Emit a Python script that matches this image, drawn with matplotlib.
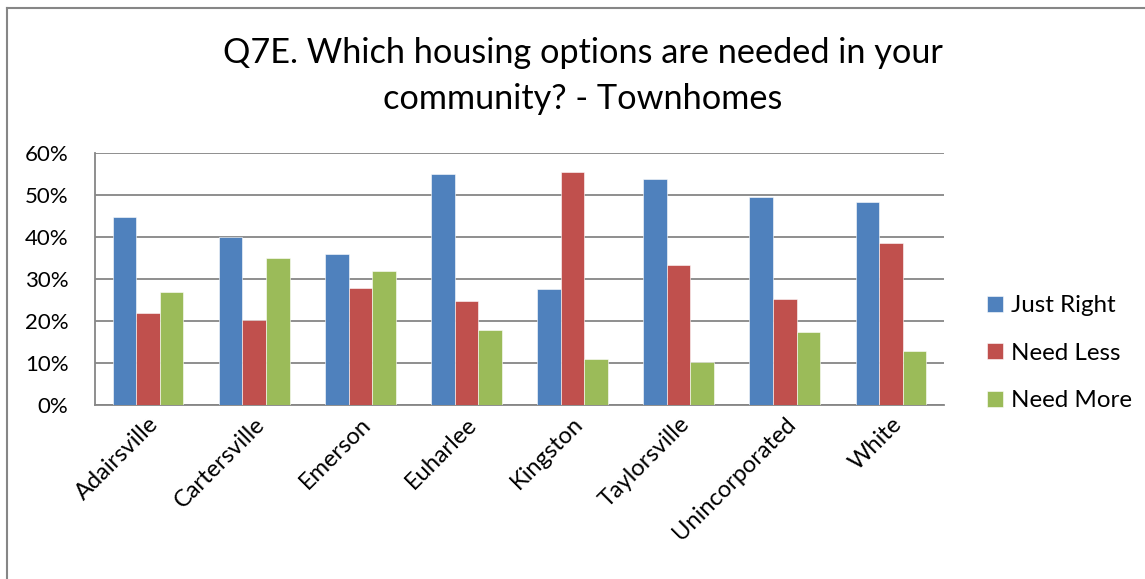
import matplotlib
matplotlib.use("Agg")
import matplotlib.pyplot as plt
import numpy as np
from matplotlib.ticker import PercentFormatter

plt.rcParams['font.family'] = ['Lato', 'DejaVu Sans']

lugares = ['Adairsville', 'Cartersville', 'Emerson', 'Euharlee', 'Kingston',
           'Taylorsville', 'Unincorporated', 'White']
just_right = [44.7, 39.9, 36.0, 55.0, 27.6, 53.7, 49.5, 48.3]
need_less = [21.8, 20.2, 27.9, 24.7, 55.5, 33.3, 25.2, 38.6]
need_more = [27.0, 35.0, 31.9, 17.9, 11.0, 10.2, 17.5, 12.9]

series = [('Just Right', just_right, '#4F81BD'),
          ('Need Less', need_less, '#C0504D'),
          ('Need More', need_more, '#9BBB59')]

fig = plt.figure(figsize=(11.45, 5.79), dpi=100)
ax = fig.add_axes([95 / 1145, 1 - 405 / 579, 849 / 1145, 252 / 579])

# borde del gráfico
fig.add_artist(plt.Line2D([7 / 1145, 7 / 1145], [0, 1 - 8 / 579], color='#868686', lw=1.5))
fig.add_artist(plt.Line2D([7 / 1145, 1], [1 - 8 / 579, 1 - 8 / 579], color='#868686', lw=1.5))

x = np.arange(len(lugares))
w = 0.222
for i, (nombre, vals, color) in enumerate(series):
    ax.bar(x + (i - 1) * w, vals, w, color=color, label=nombre,
           edgecolor='white', linewidth=0.4, zorder=3)

ax.set_xlim(-0.5, len(lugares) - 0.5)
ax.set_ylim(0, 60)
ax.set_yticks(range(0, 61, 10))
ax.yaxis.set_major_formatter(PercentFormatter(decimals=0))
ax.grid(axis='y', color='#868686', lw=1.3, zorder=0)
for s in ['top', 'right']:
    ax.spines[s].set_visible(False)
for s in ['left', 'bottom']:
    ax.spines[s].set_color('#868686')
    ax.spines[s].set_linewidth(1.3)
ax.tick_params(axis='both', length=0, colors='black')
ax.tick_params(axis='y', pad=19, labelsize=16)
ax.tick_params(axis='x', pad=6, labelsize=17)
ax.set_xticks(x)
ax.set_xticklabels(lugares, rotation=45, ha='right', rotation_mode='anchor')

fig.text(0.509, 1 - 53 / 579, 'Q7E. Which housing options are needed in your',
         ha='center', va='center', fontsize=24.7)
fig.text(0.509, 1 - 99 / 579, 'community? - Townhomes',
         ha='center', va='center', fontsize=24.7)

ax.legend(loc='center left', bbox_to_anchor=(1.025, 0.205), frameon=False,
          fontsize=17.4, handlelength=0.65, handleheight=0.65, labelspacing=1.1,
          handletextpad=0.35)

fig.savefig('out.png', dpi=100)
